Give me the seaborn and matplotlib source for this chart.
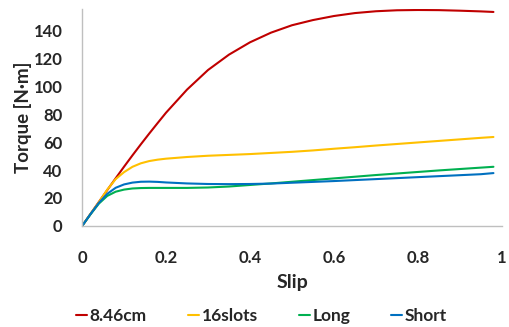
import pandas as pd
import matplotlib
matplotlib.use('Agg')
import matplotlib.pyplot as plt
import seaborn as sns

# Slip values where the curves were sampled
slip = [0, 0.02, 0.04, 0.06, 0.08, 0.1, 0.12, 0.14, 0.16, 0.18, 0.2,
        0.25, 0.3, 0.35, 0.4, 0.45, 0.5, 0.55, 0.6, 0.65, 0.7, 0.75,
        0.8, 0.85, 0.9, 0.95, 0.98]

# Torque [N·m] for each design
torque_846cm = [0, 8.6, 17.2, 25.7, 34.1, 42.4, 50.5, 58.4, 66.1, 73.6, 81,
                97.5, 111.5, 122.5, 131.3, 138.2, 143.5, 147.2, 150.1, 152.2, 153.5, 154.2,
                154.4, 154.3, 153.9, 153.4, 153]
torque_16slots = [0, 8.6, 17, 26, 33.5, 38.5, 42.3, 44.8, 46.4, 47.4, 48.1,
                  49.3, 50.2, 50.8, 51.4, 52.2, 53, 54, 55.2, 56.3, 57.5, 58.6,
                  59.7, 60.8, 61.9, 63, 63.6]
torque_long = [0, 8.3, 16, 21.5, 24.5, 26, 26.8, 27.1, 27.2, 27.2, 27.2,
               27.2, 27.5, 28.2, 29.3, 30.4, 31.6, 32.8, 34, 35.2, 36.4, 37.5,
               38.6, 39.7, 40.7, 41.7, 42.3]
torque_short = [0, 8.5, 16.5, 23, 27.3, 29.7, 31, 31.6, 31.7, 31.5, 31.1,
                30.4, 30, 29.9, 30, 30.3, 30.9, 31.5, 32.1, 32.8, 33.5, 34.2,
                34.9, 35.6, 36.3, 37, 37.8]

series_names = ["8.46cm", "16slots", "Long", "Short"]
series_colors = ["#C00000", "#FFC000", "#00B050", "#0070C0"]

frames = []
for name, vals in zip(series_names, [torque_846cm, torque_16slots, torque_long, torque_short]):
    frames.append(pd.DataFrame({'Slip': slip, 'Torque': vals, 'Design': name}))
df = pd.concat(frames, ignore_index=True)

sns.set_style("white")
plt.rcParams['font.family'] = ['Lato', 'DejaVu Sans']
plt.rcParams['font.weight'] = 'bold'

fig = plt.figure(figsize=(5.1, 3.27), dpi=100)
ax = fig.add_axes([0.161, 0.309, 0.823, 0.663])

sns.lineplot(data=df, x='Slip', y='Torque', hue='Design', hue_order=series_names,
             palette=series_colors, linewidth=1.5, ax=ax, legend=True)

ax.set_xlim(0, 1)
ax.set_ylim(0, 155)
ax.set_xticks([0, 0.2, 0.4, 0.6, 0.8, 1])
ax.set_xticklabels(['0', '0.2', '0.4', '0.6', '0.8', '1'])
ax.set_yticks(range(0, 141, 20))

for s in ['top', 'right']:
    ax.spines[s].set_visible(False)
for s in ['left', 'bottom']:
    ax.spines[s].set_color('#BFBFBF')
    ax.spines[s].set_linewidth(1.0)

ax.tick_params(axis='x', direction='out', length=5, width=1, color='#BFBFBF', pad=12,
               labelsize=12)
ax.tick_params(axis='y', direction='out', length=3, width=1, color='#BFBFBF', pad=11,
               labelsize=12)
for lbl in ax.get_xticklabels() + ax.get_yticklabels():
    lbl.set_fontweight('bold')

ax.set_xlabel('Slip', fontsize=14, fontweight='bold', labelpad=6)
ax.set_ylabel('Torque [N·m]', fontsize=13.5, fontweight='bold', labelpad=1)

handles, labels = ax.get_legend_handles_labels()
ax.legend(handles, labels, loc='center', bbox_to_anchor=(0.513, 0.033),
          bbox_transform=fig.transFigure, ncol=4, frameon=False,
          handlelength=0.65, handletextpad=0.15, columnspacing=2.35,
          prop={'weight': 'bold', 'size': 12.5})

fig.savefig('out.png', dpi=100)
